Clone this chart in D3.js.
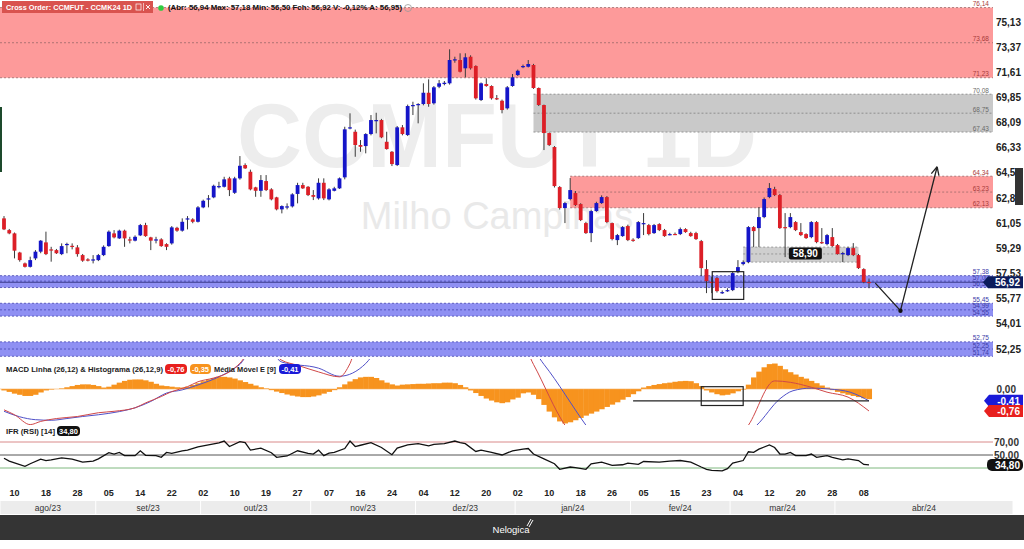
<!DOCTYPE html>
<html><head><meta charset="utf-8">
<script src="https://cdn.jsdelivr.net/npm/d3@7"></script>
<style>body{margin:0;background:#fff}svg{display:block;font-family:"Liberation Sans",Arial,sans-serif}</style>
</head><body><svg id="c" width="1024" height="549"></svg>
<script>
// ---------------- DATA ----------------
const candles=[ // [open, high, low, close]
[61.39,61.55,60.57,60.62],[60.57,60.65,60.28,60.34],[60.34,60.40,58.59,59.13],[59.00,59.05,58.36,58.47],[58.24,58.30,57.95,58.00],
[58.00,58.71,57.95,58.47],[58.59,59.17,58.47,59.06],[59.06,59.87,58.95,59.83],[59.71,60.46,58.82,58.89],[59.22,59.40,58.36,59.17],
[59.17,59.25,58.90,58.95],[58.89,59.64,58.82,59.45],[59.55,59.69,58.95,59.60],[59.47,59.64,59.22,59.43],[59.36,59.52,58.71,58.89],
[58.82,58.90,58.35,58.43],[58.52,58.60,58.38,58.43],[58.50,58.82,58.24,58.52],[58.47,58.90,58.40,58.82],[58.82,59.50,58.75,59.40],
[59.45,60.55,59.40,60.46],[60.34,60.57,59.99,60.06],[59.99,60.60,59.95,60.53],[60.53,60.60,59.40,59.99],[59.92,60.10,59.64,59.90],
[59.83,60.20,59.78,60.10],[60.20,61.00,60.15,60.92],[60.92,61.08,60.10,60.15],[60.06,60.10,59.17,59.83],[59.90,60.10,59.64,59.92],
[59.92,60.00,59.40,59.45],[59.59,59.65,59.17,59.40],[59.64,60.85,59.55,60.76],[60.73,60.80,60.45,60.53],[60.53,61.39,60.46,61.15],
[61.36,61.55,60.62,61.39],[61.32,61.40,61.05,61.15],[61.15,62.25,61.10,62.16],[62.16,62.70,62.10,62.62],[62.77,63.02,62.16,62.79],
[62.86,63.75,62.80,63.67],[63.63,63.95,63.49,63.65],[63.60,64.30,63.55,64.12],[64.19,64.30,62.95,63.37],[63.18,64.30,63.10,64.19],
[64.19,65.75,64.10,65.07],[65.12,65.24,64.85,64.89],[64.65,64.80,63.35,63.42],[63.56,63.60,62.90,63.32],[63.32,64.42,62.90,64.07],
[64.00,64.42,63.30,63.37],[63.42,63.50,62.65,62.72],[62.86,62.90,61.95,62.02],[62.02,62.30,61.74,62.25],[62.20,62.44,62.02,62.23],
[62.23,63.15,62.15,63.07],[63.10,63.88,62.44,63.72],[63.72,63.88,63.45,63.49],[63.60,63.65,62.95,63.02],[63.02,63.37,62.67,62.90],
[62.79,64.19,62.70,63.88],[63.88,64.19,62.67,62.79],[62.72,63.50,62.65,63.42],[63.32,63.60,63.28,63.49],[63.49,64.25,63.45,64.19],
[64.26,67.80,64.12,67.62],[67.70,68.74,67.62,67.76],[67.45,67.60,65.70,66.52],[66.52,66.87,66.05,66.40],[66.45,67.35,65.94,67.29],
[67.29,68.62,67.20,68.27],[68.25,68.78,67.34,68.27],[68.27,68.35,67.00,67.06],[66.75,67.45,66.20,66.24],[66.05,66.10,65.05,65.19],
[65.12,67.85,65.05,67.76],[67.76,67.92,67.20,67.29],[67.22,69.35,67.15,69.25],[69.28,69.55,68.62,69.32],[69.37,69.45,68.04,69.39],
[69.39,70.84,69.30,70.18],[70.18,71.12,69.20,69.39],[69.44,70.65,69.35,70.56],[70.60,71.07,70.50,70.84],[70.79,71.00,70.70,70.88],
[70.84,73.22,70.75,72.47],[72.50,72.70,72.28,72.52],[72.47,72.94,71.60,71.65],[71.89,72.94,71.26,72.66],[72.70,72.80,71.80,71.89],
[72.05,72.10,69.70,69.79],[69.67,70.90,69.60,70.84],[70.79,71.19,70.60,70.65],[70.65,70.70,69.70,69.79],[69.80,70.02,69.67,69.79],
[69.62,69.70,68.74,68.97],[69.09,70.65,69.00,70.56],[70.65,71.49,70.60,71.26],[71.42,71.80,71.35,71.72],[71.98,72.15,71.90,72.05],
[72.00,72.47,71.95,72.19],[72.12,72.20,70.45,70.51],[70.51,70.55,69.25,69.32],[69.32,69.35,66.17,67.36],[67.36,67.40,66.45,66.52],
[66.38,66.45,63.55,63.65],[63.58,63.65,62.00,62.11],[62.11,62.55,61.06,62.46],[62.74,64.21,62.65,63.37],[63.16,63.30,62.25,62.32],
[62.39,62.45,61.20,61.27],[61.06,61.15,60.30,60.36],[60.36,62.00,59.73,61.90],[61.90,62.55,61.85,62.46],[62.46,63.00,62.40,62.88],
[62.88,62.95,61.05,61.13],[61.06,61.10,59.85,59.94],[59.87,60.30,59.52,60.22],[60.15,60.85,60.10,60.78],[60.85,60.95,59.80,59.87],
[59.90,60.00,59.75,59.87],[60.01,61.20,59.95,61.13],[61.03,61.76,60.22,61.06],[60.92,61.00,60.20,60.29],[60.36,61.00,60.30,60.92],
[60.99,61.05,60.50,60.57],[60.57,60.65,60.10,60.15],[60.27,60.38,60.20,60.29],[60.30,60.40,60.22,60.29],[60.29,60.75,60.22,60.64],
[60.64,60.70,60.38,60.43],[60.36,60.45,60.10,60.15],[60.36,60.45,59.88,59.94],[59.80,59.88,57.35,57.91],[57.84,58.47,56.16,57.00],
[56.95,57.28,56.16,56.93],[57.21,57.30,56.20,56.30],[56.20,56.35,56.10,56.23],[56.35,56.50,56.25,56.37],[56.37,57.65,56.30,57.56],
[57.63,58.47,57.55,57.98],[58.19,58.45,58.10,58.33],[58.33,60.85,58.25,60.78],[60.78,60.85,59.38,60.50],[60.71,62.18,59.38,61.48],
[61.48,62.85,61.40,62.74],[62.88,63.86,62.80,63.51],[63.44,63.60,62.95,63.02],[63.02,63.10,60.65,60.71],[60.78,61.76,58.68,60.71],
[60.78,61.76,60.70,61.48],[61.13,61.20,60.50,60.57],[60.43,61.06,60.15,60.22],[60.29,60.35,59.95,60.01],[60.08,61.20,60.00,61.13],
[61.13,61.20,59.65,59.73],[59.73,60.71,59.60,59.66],[59.59,60.30,59.50,60.22],[60.08,60.71,59.40,59.45],[59.52,59.60,58.85,58.89],
[58.93,59.05,58.33,58.96],[58.82,59.40,58.75,59.31],[59.31,59.66,58.75,58.82],[58.82,58.90,57.85,57.91],[57.84,57.90,56.85,56.93],
[56.94,57.18,56.50,56.92]];

const histVals=[-0.05,-0.10,-0.16,-0.20,-0.24,-0.24,-0.20,-0.12,-0.05,
-0.02,0.00,0.02,
0.06,0.10,0.14,0.16,0.16,0.14,0.10,
0.05,0.08,
0.15,0.22,0.28,0.32,0.33,0.33,0.30,0.25,0.18,
0.12,0.10,0.08,0.06,0.05,0.08,
0.14,0.20,0.27,0.33,0.38,0.42,0.42,0.40,0.36,0.30,
0.24,0.18,0.12,0.06,0.02,
-0.04,-0.09,-0.14,-0.19,-0.23,-0.26,-0.28,-0.28,-0.26,-0.22,-0.16,-0.10,-0.04,
0.06,0.16,0.26,0.34,0.40,0.42,0.42,0.38,0.30,0.22,
0.16,0.12,0.15,
0.16,0.17,0.18,0.18,0.19,0.20,0.20,0.22,0.22,0.20,0.14,0.06,
-0.05,-0.14,-0.24,-0.33,-0.40,-0.46,-0.49,-0.46,-0.36,
-0.30,-0.15,-0.12,
-0.20,-0.35,-0.55,-0.78,-0.98,-1.12,-1.19,-1.15,-1.08,-1.00,-0.92,-0.85,-0.78,-0.70,-0.62,-0.54,-0.46,-0.37,-0.28,-0.18,-0.08,
0.05,0.10,0.14,0.17,0.20,0.22,0.25,0.27,0.28,0.27,0.20,0.10,
-0.05,-0.12,-0.18,-0.22,-0.20,-0.15,-0.08,-0.02,
0.15,0.40,0.60,0.75,0.86,0.88,0.80,0.68,0.58,0.50,0.42,0.36,0.28,0.20,0.12,0.05,
-0.04,-0.10,-0.15,-0.20,-0.24,-0.28,-0.32,-0.35];

const macdPts=[[0,-0.72],[2,-0.89],[5,-1.23],[7,-1.12],[10,-1.02],[14,-0.95],[18,-0.82],[21,-0.77],[25,-0.65],[27,-0.48],[30,-0.26],[32,-0.09],[35,0.08],[37,0.25],[40,0.38],[43,0.59],[45,0.89],[47,1.3],[50,1.4],
[53,0.99],[56,0.82],[60,0.59],[64,0.42],[66,0.88],[67,1.3],[80,2.0],[99,1.5],[101,0.85],[107,-1.25],[108,-1.5],[141,-1.5],[142,-1.25],[147,0.28],[150,0.23],[154,0.06],[157,-0.11],[161,-0.28],[165,-0.76]];
const signalPts=[[0,-0.77],[3,-0.96],[6,-1.06],[9,-1.08],[12,-1.02],[15,-0.95],[18,-0.89],[22,-0.78],[25,-0.65],[28,-0.43],[31,-0.14],[34,-0.03],[37,0.14],[41,0.42],[44,0.72],[45,0.85],[47,1.3],[50,1.4],
[53,0.93],[60,0.72],[64,0.44],[69,0.88],[71,1.3],[80,2.0],[100,1.5],[103,0.85],[111,-1.25],[112,-1.5],[142,-1.5],[143.6,-1.25],[148,-0.34],[150.5,-0.06],[154,0.03],[157.4,0],[161.4,-0.11],[165,-0.41]];
const rsiPts=[[0,45],[1,40.5],[4,32.5],[5,36.5],[7,43.5],[8,41.5],[9,42.5],[11,45.5],[13,43.5],[15,39],[17,40.5],[18,44],[20,53.5],[21,51.5],[22,54],[23,49],[25,49],[26,56.5],[27,49.5],[29,49],[30,46.5],[31,54],[32,52.5],[34,56.5],[35,57.5],[37,62.5],[39,65.5],[41,68.5],[42,71.5],[43,63],[45,70.5],[46,69],[47,57.5],[49,60.5],[51,53.5],[52,46.5],[54,48.5],[56,56.5],[58,52.5],[59,51.5],[60,57.5],[61,49],[62,53],[63,54],[65,60],[66,71.5],[67,63],[68,65],[70,69],[72,61.5],[74,50.5],[75,60.5],[77,65.5],[79,67.5],[81,64],[82,66.5],[84,67.5],[86,71.5],[87,69],[88,67.5],[90,55.5],[91,57.5],[93,54],[95,50],[97,56.5],[99,59],[100,60],[101,51.5],[103,44],[105,36.5],[106,28],[108,31.5],[109,30.5],[111,28],[112,36.5],[114,39],[116,34],[118,35],[119,37.5],[121,35.5],[122,40],[125,39],[127,40.5],[129,41.5],[131,39],[133,31.5],[134,28],[135,26.5],[137,25.5],[138,29],[139,37.5],[141,41.5],[142,55],[143,54],[144,59],[146,65.5],[147,61.5],[148,51.5],[149,51.5],[150,54],[151,49],[153,49],[154,51.5],[155,46.5],[157,49],[158,46.5],[160,42.5],[161,44],[163,41.5],[164,35.5],[165,34.8]];

const priceTicks=[75.13,73.37,71.61,69.85,68.09,66.33,64.57,62.81,61.05,59.29,57.53,55.77,54.01,52.25];
const dayTickIdx=[2,8,14,20,26,32,38,44,50,56,62,68,74,80,86,92,98,104,110,116,122,128,134,140,146,152,158,164];
const dayTickLabels=['10','18','28','05','14','22','02','10','19','27','07','16','24','04','12','20','02','10','18','26','05','15','23','04','12','20','28','08'];
const monthLabels=['ago/23','set/23','out/23','nov/23','dez/23','jan/24','fev/24','mar/24','abr/24'];
const monthStartIdx=[-1,17.5,37.5,58.5,78.5,97.5,119.5,138.5,158.5,192.5];

// zones: [top, mid, bottom, start index, kind]
const zones=[[76.14,73.68,71.23,-1,'res'],[70.08,68.75,67.43,101,'gap'],[64.34,63.23,62.13,108,'res'],
[57.38,57.00,56.55,-1,'sup'],[55.45,54.99,54.55,-1,'sup'],[52.75,52.25,51.74,-1,'sup']];
const zoneLabels=[['76,14','73,68','71,23'],['70,08','68,75','67,43'],['64,34','63,23','62,13'],['57,38','57,00','56,55'],['55,45','54,99','54,55'],['52,75','52,25','51,74']];
const lastPrice=56.92, macdLast=-0.76, signalLast=-0.41, histLast=-0.35, rsiLast=34.80;
const boxZone=[59.38,58.90,58.33,141,163]; // grey rectangle with 58,90 line
const markBox=[57.66,55.72,135.1,141.1];
const arrowPts=[[166.2,56.86],[171,54.93],[178,65.0]];
const macdBox=[0.08,-0.57,133,141], macdLine=[-0.41,120,165];

// ---------------- SCALES ----------------
const svg=d3.select('#c');
const x=d3.scaleLinear().domain([0,165]).range([4,869]);
const step=x(1)-x(0);
const plotR=993;
const yP=d3.scaleLinear().domain([52.25,75.13]).range([349,22]);
const yM=d3.scaleLinear().domain([-0.76,0]).range([411,389]);
const yR=d3.scaleLinear().domain([30,70]).range([468,442]);
const fmt=v=>v.toFixed(2).replace('.',',');

const defs=svg.append('defs');
[['cMain',0,358],['cMacd',359,425],['cRsi',426,479]].forEach(([id,a,b])=>{
  defs.append('clipPath').attr('id',id).append('rect').attr('x',0).attr('y',a).attr('width',plotR).attr('height',b-a);
});

// ---------------- MAIN PANEL ----------------
const main=svg.append('g').attr('clip-path','url(#cMain)');
main.append('text').attr('x',497).attr('y',167).attr('text-anchor','middle').attr('font-size',90).attr('font-weight','bold').attr('fill','#ededed').text('CCMFUT 1D');
main.append('text').attr('x',497).attr('y',229).attr('text-anchor','middle').attr('font-size',38).attr('fill','#e9e9e9').text('Milho Campinas');

const zFill={res:'#fd9a9a',gap:'#c9c9c9',sup:'#8f90f3'};
const zLine={res:'#9b6a6a',gap:'#808080',sup:'#4848b0'};
const zText={res:'#a83a3a',gap:'#6a6a6a',sup:'#3a3aa8'};
zones.forEach((z,k)=>{
  const x0=Math.max(0,x(z[3]));
  main.append('rect').attr('x',x0).attr('y',yP(z[0])).attr('width',plotR-x0).attr('height',yP(z[2])-yP(z[0])).attr('fill',zFill[z[4]]);
  [z[0],z[1],z[2]].forEach((v,j)=>{
    main.append('line').attr('x1',x0).attr('x2',plotR).attr('y1',yP(v)).attr('y2',yP(v)).attr('stroke',zLine[z[4]]).attr('stroke-width',0.8).attr('stroke-dasharray','2,2');
    main.append('text').attr('x',989).attr('y',yP(v)-1.5).attr('text-anchor','end').attr('font-size',6.5).attr('fill',zText[z[4]]).text(zoneLabels[k][j]);
  });
});
// grey box with 58,90
main.append('rect').attr('x',x(boxZone[3])).attr('y',yP(boxZone[0])).attr('width',x(boxZone[4])-x(boxZone[3])).attr('height',yP(boxZone[2])-yP(boxZone[0])).attr('fill','#cfcfcf');
[boxZone[0],boxZone[1],boxZone[2]].forEach(v=>main.append('line').attr('x1',x(boxZone[3])).attr('x2',x(boxZone[4])).attr('y1',yP(v)).attr('y2',yP(v)).attr('stroke','#8a8a8a').attr('stroke-width',0.8).attr('stroke-dasharray','2,2'));

// current price line
main.append('line').attr('x1',0).attr('x2',plotR).attr('y1',yP(lastPrice)).attr('y2',yP(lastPrice)).attr('stroke','#3c3c8c').attr('stroke-width',1);

// candles
const cg=main.append('g');
cg.selectAll('line.w').data(candles).join('line').attr('class','w')
  .attr('x1',(d,i)=>x(i)).attr('x2',(d,i)=>x(i)).attr('y1',d=>yP(d[1])).attr('y2',d=>yP(d[2]))
  .attr('stroke','#3a3a3a').attr('stroke-width',1);
cg.selectAll('rect.b').data(candles).join('rect').attr('class','b')
  .attr('x',(d,i)=>x(i)-1.9).attr('width',3.8)
  .attr('y',d=>yP(Math.max(d[0],d[3])))
  .attr('height',d=>Math.max(1.2,Math.abs(yP(d[0])-yP(d[3]))))
  .attr('fill',d=>d[3]>d[0]?'#1515c8':'#dc1f27');

// mark box
main.append('rect').attr('x',x(markBox[2])).attr('y',yP(markBox[0])).attr('width',x(markBox[3])-x(markBox[2])).attr('height',yP(markBox[1])-yP(markBox[0])).attr('fill','none').attr('stroke','#222').attr('stroke-width',1.2);

// arrow
const ap=arrowPts.map(p=>[x(p[0]),yP(p[1])]);
main.append('path').attr('d',d3.line()(ap)).attr('fill','none').attr('stroke','#222').attr('stroke-width',1.3);
main.append('circle').attr('cx',ap[1][0]).attr('cy',ap[1][1]).attr('r',2.2).attr('fill','#111');
(function(){const [a,b]=[ap[1],ap[2]];const ang=Math.atan2(b[1]-a[1],b[0]-a[0]);const L=9;
 [ang+Math.PI-0.45,ang+Math.PI+0.45].forEach(t=>main.append('line').attr('x1',b[0]).attr('y1',b[1]).attr('x2',b[0]+L*Math.cos(t)).attr('y2',b[1]+L*Math.sin(t)).attr('stroke','#222').attr('stroke-width',1.3));})();

// 58,90 label
const lbX=(x(boxZone[3])+x(boxZone[4]))/2+4;
main.append('rect').attr('x',lbX-16).attr('y',yP(boxZone[1])-6.5).attr('width',33).attr('height',12).attr('rx',2).attr('fill','#111');
main.append('text').attr('x',lbX+0.5).attr('y',yP(boxZone[1])+3.5).attr('text-anchor','middle').attr('font-size',10).attr('font-weight','bold').attr('fill','#fff').text(fmt(boxZone[1]));

// left edge marks
svg.append('rect').attr('x',0).attr('y',107).attr('width',2).attr('height',65).attr('fill','#1d4a2c');

// price axis labels
svg.append('g').selectAll('text').data(priceTicks).join('text')
  .attr('x',1021).attr('y',d=>yP(d)+3.5).attr('text-anchor','end').attr('font-size',10).attr('font-weight','bold').attr('fill','#222').text(fmt);
svg.append('rect').attr('x',1015).attr('y',168).attr('width',8).attr('height',37).attr('fill','#333');

// last price tag
function tag(yv,txt,fill,x0){
  const g=svg.append('g');
  g.append('path').attr('d',`M${x0},${yv} L${x0+5},${yv-6} L1023,${yv-6} L1023,${yv+6} L${x0+5},${yv+6} Z`).attr('fill',fill);
  g.append('text').attr('x',1020).attr('y',yv+3.8).attr('text-anchor','end').attr('font-size',10).attr('font-weight','bold').attr('fill','#fff').text(txt);
}
tag(yP(lastPrice),fmt(lastPrice),'#0c1c5c',983);

// ---------------- MACD PANEL ----------------
const mg=svg.append('g').attr('clip-path','url(#cMacd)');
mg.selectAll('rect').data(histVals).join('rect')
  .attr('x',(d,i)=>x(i)-step/2).attr('width',step+0.4)
  .attr('y',d=>Math.min(yM(d),yM(0))).attr('height',d=>Math.abs(yM(d)-yM(0)))
  .attr('fill','#f7931e');
mg.append('line').attr('x1',0).attr('x2',x(165)+3).attr('y1',yM(0)).attr('y2',yM(0)).attr('stroke','#f7b060').attr('stroke-width',0.6);
const lm=d3.line().x(d=>x(d[0])).y(d=>yM(d[1])).curve(d3.curveMonotoneX);
mg.append('path').attr('d',lm(signalPts)).attr('fill','none').attr('stroke','#5050c8').attr('stroke-width',1);
mg.append('path').attr('d',lm(macdPts)).attr('fill','none').attr('stroke','#d04848').attr('stroke-width',1);
mg.append('line').attr('x1',x(macdLine[1])).attr('x2',x(macdLine[2])).attr('y1',yM(macdLine[0])).attr('y2',yM(macdLine[0])).attr('stroke','#222').attr('stroke-width',1.3);
mg.append('rect').attr('x',x(macdBox[2])).attr('y',yM(macdBox[0])).attr('width',x(macdBox[3])-x(macdBox[2])).attr('height',yM(macdBox[1])-yM(macdBox[0])).attr('fill','none').attr('stroke','#222').attr('stroke-width',1.2);

// MACD title
const tg=svg.append('g').attr('font-size',7.5).attr('font-weight','bold');
tg.append('text').attr('x',6).attr('y',372).attr('fill','#222').attr('textLength',157).attr('lengthAdjust','spacingAndGlyphs').text('MACD Linha (26,12) & Histograma (26,12,9)');
function pill(g,x0,yc,w,txt,fill){g.append('rect').attr('x',x0).attr('y',yc-5).attr('width',w).attr('height',10).attr('rx',4).attr('fill',fill);
  g.append('text').attr('x',x0+w/2).attr('y',yc+3).attr('text-anchor','middle').attr('fill','#fff').attr('font-size',7.5).attr('font-weight','bold').text(txt);}
pill(tg,165,369,22,fmt(macdLast),'#e8201e');
pill(tg,190,369,21,fmt(histLast),'#f7931e');
tg.append('text').attr('x',214).attr('y',372).attr('fill','#222').attr('textLength',62).attr('lengthAdjust','spacingAndGlyphs').text('Média Móvel E [9]');
pill(tg,279,369,22,fmt(signalLast),'#1a1ad8');

svg.append('text').attr('x',1016).attr('y',yM(0)+3.5).attr('text-anchor','end').attr('font-size',10).attr('font-weight','bold').attr('fill','#333').text('0,00');
tag(yM(signalLast),fmt(signalLast),'#1a1ad8',984);
tag(yM(macdLast),fmt(macdLast),'#e8201e',984);

// ---------------- RSI PANEL ----------------
const rg=svg.append('g').attr('clip-path','url(#cRsi)');
[[70,'#d98a8a'],[50,'#555'],[30,'#7fb87f']].forEach(([v,c])=>rg.append('line').attr('x1',0).attr('x2',plotR).attr('y1',yR(v)).attr('y2',yR(v)).attr('stroke',c).attr('stroke-width',1));
rg.append('path').attr('d',d3.line().x(d=>x(d[0])).y(d=>yR(d[1]))(rsiPts)).attr('fill','none').attr('stroke','#111').attr('stroke-width',1.3);
const rt=svg.append('g').attr('font-size',7.5).attr('font-weight','bold');
rt.append('text').attr('x',6).attr('y',434).attr('fill','#222').attr('textLength',49).attr('lengthAdjust','spacingAndGlyphs').text('IFR (RSI) [14]');
pill(rt,57,431,23,fmt(rsiLast),'#111');
[70,50].forEach(v=>svg.append('text').attr('x',1019).attr('y',yR(v)+3.5).attr('text-anchor','end').attr('font-size',10).attr('font-weight','bold').attr('fill','#333').text(fmt(v)));
(function(){const yv=yR(rsiLast);svg.append('rect').attr('x',987).attr('y',yv-6).attr('width',36).attr('height',12).attr('rx',5).attr('fill','#111');
 svg.append('text').attr('x',1020).attr('y',yv+3.8).attr('text-anchor','end').attr('font-size',10).attr('font-weight','bold').attr('fill','#fff').text(fmt(rsiLast));})();

// ---------------- DATE AXIS ----------------
svg.append('g').selectAll('text').data(dayTickIdx).join('text')
  .attr('x',d=>x(d)).attr('y',496).attr('text-anchor','middle').attr('font-size',9).attr('font-weight','bold').attr('fill','#222')
  .text((d,i)=>dayTickLabels[i]);
const mb=svg.append('g');
monthLabels.forEach((m,i)=>{
  const a=Math.max(0,x(monthStartIdx[i])), b=Math.min(1013,x(monthStartIdx[i+1]));
  mb.append('rect').attr('x',a+0.5).attr('y',501).attr('width',b-a-1).attr('height',13).attr('fill','#ececec');
  mb.append('text').attr('x',(a+b)/2).attr('y',511).attr('text-anchor','middle').attr('font-size',8.5).attr('fill','#333').text(m);
});
svg.append('rect').attr('x',0).attr('y',515).attr('width',1024).attr('height',25).attr('fill','#343434');
svg.append('text').attr('x',511).attr('y',533).attr('text-anchor','middle').attr('font-size',9.5).attr('fill','#fff').text('Nelogica');
svg.append('path').attr('d','M527,526 L531,519 M529,527 L533,520').attr('stroke','#fff').attr('stroke-width',1);

// ---------------- HEADER ----------------
const hg=svg.append('g');
hg.append('rect').attr('x',2).attr('y',1).attr('width',151).attr('height',12).attr('fill','#d9534f');
hg.append('text').attr('x',6).attr('y',10).attr('font-size',8).attr('font-weight','bold').attr('fill','#fff').attr('textLength',126).attr('lengthAdjust','spacingAndGlyphs').text('Cross Order: CCMFUT - CCMK24 1D');
hg.append('rect').attr('x',136).attr('y',4).attr('width',5).attr('height',6).attr('fill','none').attr('stroke','#fff').attr('stroke-width',0.7);
hg.append('line').attr('x1',143.5).attr('x2',143.5).attr('y1',3).attr('y2',11).attr('stroke','#fff').attr('stroke-width',0.6);
hg.append('path').attr('d','M146,5 L150,9 M150,5 L146,9').attr('stroke','#fff').attr('stroke-width',0.9);
hg.append('circle').attr('cx',161).attr('cy',8).attr('r',2.8).attr('fill','#2ecc40');
hg.append('text').attr('x',168).attr('y',10).attr('font-size',7.5).attr('font-weight','bold').attr('fill','#111').attr('textLength',234).attr('lengthAdjust','spacingAndGlyphs')
  .text('(Abr: 56,94  Max: 57,18  Min: 56,50  Fch: 56,92  V: -0,12%  A: 56,95)');
hg.append('circle').attr('cx',408).attr('cy',8).attr('r',3.5).attr('fill','none').attr('stroke','#999').attr('stroke-width',0.8);
</script></body></html>
